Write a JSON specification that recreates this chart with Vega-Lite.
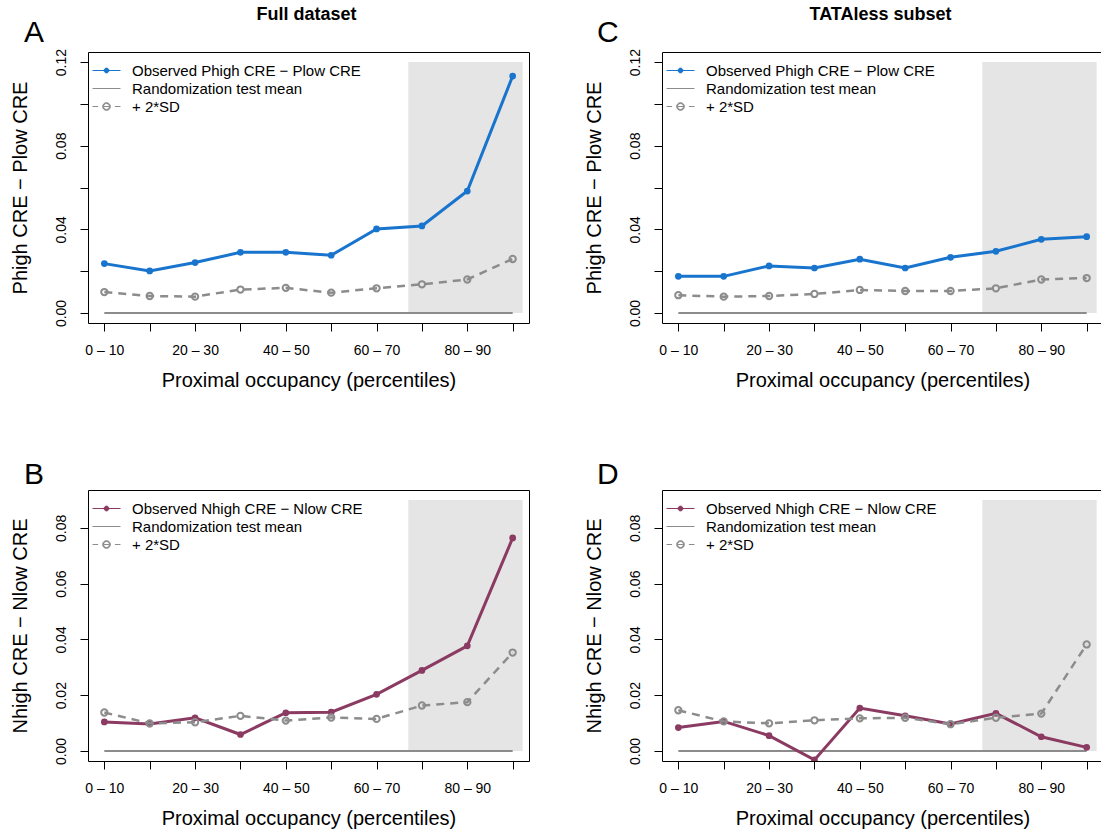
{
  "$schema": "https://vega.github.io/schema/vega-lite/v6.json",
  "padding": {"left": 9, "top": 5, "right": 0, "bottom": 0},
  "background": "white",
  "datasets": {
    "d": [
      {"p":"A","bin":1,"s":"obs","v":0.0236},{"p":"A","bin":2,"s":"obs","v":0.0201},{"p":"A","bin":3,"s":"obs","v":0.0241},{"p":"A","bin":4,"s":"obs","v":0.0290},{"p":"A","bin":5,"s":"obs","v":0.0290},{"p":"A","bin":6,"s":"obs","v":0.0276},{"p":"A","bin":7,"s":"obs","v":0.0402},{"p":"A","bin":8,"s":"obs","v":0.0416},{"p":"A","bin":9,"s":"obs","v":0.0583},{"p":"A","bin":10,"s":"obs","v":0.1133},
      {"p":"A","bin":1,"s":"sd","v":0.0100},{"p":"A","bin":2,"s":"sd","v":0.0081},{"p":"A","bin":3,"s":"sd","v":0.0078},{"p":"A","bin":4,"s":"sd","v":0.0112},{"p":"A","bin":5,"s":"sd","v":0.0120},{"p":"A","bin":6,"s":"sd","v":0.0097},{"p":"A","bin":7,"s":"sd","v":0.0118},{"p":"A","bin":8,"s":"sd","v":0.0137},{"p":"A","bin":9,"s":"sd","v":0.0160},{"p":"A","bin":10,"s":"sd","v":0.0258},
      {"p":"A","bin":1,"s":"mean","v":0},{"p":"A","bin":2,"s":"mean","v":0},{"p":"A","bin":3,"s":"mean","v":0},{"p":"A","bin":4,"s":"mean","v":0},{"p":"A","bin":5,"s":"mean","v":0},{"p":"A","bin":6,"s":"mean","v":0},{"p":"A","bin":7,"s":"mean","v":0},{"p":"A","bin":8,"s":"mean","v":0},{"p":"A","bin":9,"s":"mean","v":0},{"p":"A","bin":10,"s":"mean","v":0},
      {"p":"B","bin":1,"s":"obs","v":0.0104},{"p":"B","bin":2,"s":"obs","v":0.0097},{"p":"B","bin":3,"s":"obs","v":0.0119},{"p":"B","bin":4,"s":"obs","v":0.0059},{"p":"B","bin":5,"s":"obs","v":0.0137},{"p":"B","bin":6,"s":"obs","v":0.0139},{"p":"B","bin":7,"s":"obs","v":0.0203},{"p":"B","bin":8,"s":"obs","v":0.0289},{"p":"B","bin":9,"s":"obs","v":0.0377},{"p":"B","bin":10,"s":"obs","v":0.0764},
      {"p":"B","bin":1,"s":"sd","v":0.0138},{"p":"B","bin":2,"s":"sd","v":0.0099},{"p":"B","bin":3,"s":"sd","v":0.0103},{"p":"B","bin":4,"s":"sd","v":0.0126},{"p":"B","bin":5,"s":"sd","v":0.0109},{"p":"B","bin":6,"s":"sd","v":0.0120},{"p":"B","bin":7,"s":"sd","v":0.0115},{"p":"B","bin":8,"s":"sd","v":0.0163},{"p":"B","bin":9,"s":"sd","v":0.0175},{"p":"B","bin":10,"s":"sd","v":0.0353},
      {"p":"B","bin":1,"s":"mean","v":0},{"p":"B","bin":2,"s":"mean","v":0},{"p":"B","bin":3,"s":"mean","v":0},{"p":"B","bin":4,"s":"mean","v":0},{"p":"B","bin":5,"s":"mean","v":0},{"p":"B","bin":6,"s":"mean","v":0},{"p":"B","bin":7,"s":"mean","v":0},{"p":"B","bin":8,"s":"mean","v":0},{"p":"B","bin":9,"s":"mean","v":0},{"p":"B","bin":10,"s":"mean","v":0},
      {"p":"C","bin":1,"s":"obs","v":0.0175},{"p":"C","bin":2,"s":"obs","v":0.0175},{"p":"C","bin":3,"s":"obs","v":0.0225},{"p":"C","bin":4,"s":"obs","v":0.0215},{"p":"C","bin":5,"s":"obs","v":0.0257},{"p":"C","bin":6,"s":"obs","v":0.0215},{"p":"C","bin":7,"s":"obs","v":0.0266},{"p":"C","bin":8,"s":"obs","v":0.0295},{"p":"C","bin":9,"s":"obs","v":0.0352},{"p":"C","bin":10,"s":"obs","v":0.0365},
      {"p":"C","bin":1,"s":"sd","v":0.0085},{"p":"C","bin":2,"s":"sd","v":0.0078},{"p":"C","bin":3,"s":"sd","v":0.0081},{"p":"C","bin":4,"s":"sd","v":0.0091},{"p":"C","bin":5,"s":"sd","v":0.0110},{"p":"C","bin":6,"s":"sd","v":0.0105},{"p":"C","bin":7,"s":"sd","v":0.0105},{"p":"C","bin":8,"s":"sd","v":0.0118},{"p":"C","bin":9,"s":"sd","v":0.0160},{"p":"C","bin":10,"s":"sd","v":0.0167},
      {"p":"C","bin":1,"s":"mean","v":0},{"p":"C","bin":2,"s":"mean","v":0},{"p":"C","bin":3,"s":"mean","v":0},{"p":"C","bin":4,"s":"mean","v":0},{"p":"C","bin":5,"s":"mean","v":0},{"p":"C","bin":6,"s":"mean","v":0},{"p":"C","bin":7,"s":"mean","v":0},{"p":"C","bin":8,"s":"mean","v":0},{"p":"C","bin":9,"s":"mean","v":0},{"p":"C","bin":10,"s":"mean","v":0},
      {"p":"D","bin":1,"s":"obs","v":0.0084},{"p":"D","bin":2,"s":"obs","v":0.0106},{"p":"D","bin":3,"s":"obs","v":0.0055},{"p":"D","bin":4,"s":"obs","v":-0.0032},{"p":"D","bin":5,"s":"obs","v":0.0154},{"p":"D","bin":6,"s":"obs","v":0.0126},{"p":"D","bin":7,"s":"obs","v":0.0097},{"p":"D","bin":8,"s":"obs","v":0.0135},{"p":"D","bin":9,"s":"obs","v":0.0051},{"p":"D","bin":10,"s":"obs","v":0.0013},
      {"p":"D","bin":1,"s":"sd","v":0.0146},{"p":"D","bin":2,"s":"sd","v":0.0106},{"p":"D","bin":3,"s":"sd","v":0.0099},{"p":"D","bin":4,"s":"sd","v":0.0110},{"p":"D","bin":5,"s":"sd","v":0.0117},{"p":"D","bin":6,"s":"sd","v":0.0119},{"p":"D","bin":7,"s":"sd","v":0.0096},{"p":"D","bin":8,"s":"sd","v":0.0119},{"p":"D","bin":9,"s":"sd","v":0.0134},{"p":"D","bin":10,"s":"sd","v":0.0382},
      {"p":"D","bin":1,"s":"mean","v":0},{"p":"D","bin":2,"s":"mean","v":0},{"p":"D","bin":3,"s":"mean","v":0},{"p":"D","bin":4,"s":"mean","v":0},{"p":"D","bin":5,"s":"mean","v":0},{"p":"D","bin":6,"s":"mean","v":0},{"p":"D","bin":7,"s":"mean","v":0},{"p":"D","bin":8,"s":"mean","v":0},{"p":"D","bin":9,"s":"mean","v":0},{"p":"D","bin":10,"s":"mean","v":0}
    ],
    "band": [
      {"p":"A","lo":7.7,"hi":10.22,"bot":0,"top":0.12},
      {"p":"B","lo":7.7,"hi":10.22,"bot":0,"top":0.09},
      {"p":"C","lo":7.7,"hi":10.22,"bot":0,"top":0.12},
      {"p":"D","lo":7.7,"hi":10.22,"bot":0,"top":0.09}
    ]
  },
  "config": {
    "font": "Liberation Sans",
    "view": {"stroke": "black", "strokeWidth": 1},
    "axis": {"domain": false, "grid": false, "tickColor": "black", "tickSize": 8, "labelColor": "black", "titleColor": "black", "labelFontSize": 14, "titleFontSize": 20, "titleFontWeight": "normal", "labelOverlap": false, "labelFlush": false},
    "axisX": {"labelPadding": 12, "titlePadding": 13},
    "axisY": {"labelAngle": 270, "labelAlign": "center", "labelBaseline": "bottom", "labelPadding": 12, "titlePadding": 24},
    "legend": {"orient": "top-left", "offset": 11, "padding": 0, "labelFontSize": 15, "labelColor": "black", "symbolSize": 196, "symbolStrokeWidth": 1, "rowPadding": 2, "labelOffset": 18, "labelLimit": 500},
    "title": {"color": "black", "fontWeight": "normal"}
  },
  "spacing": 53,
  "resolve": {"scale": {"color": "independent"}, "legend": {"color": "independent"}},
  "hconcat": [
    {
      "title": {"text": "Full dataset", "fontWeight": "bold", "fontSize": 18, "anchor": "middle", "dx": 37, "offset": -6},
      "spacing": 68,
      "resolve": {"scale": {"color": "independent"}, "legend": {"color": "independent"}},
      "vconcat": [
        {
          "title": {"text": "A", "anchor": "start", "frame": "group", "fontSize": 30, "dx": -64, "offset": 0},
          "width": 441, "height": 271,
          "encoding": {
            "x": {"field": "bin", "type": "quantitative", "scale": {"domain": [0.64, 10.36], "nice": false, "zero": false}, "axis": {"values": [1,2,3,4,5,6,7,8,9,10], "labelExpr": "datum.value % 2 == 1 ? ((datum.value - 1) * 10) + ' – ' + (datum.value * 10) : ''", "title": "Proximal occupancy (percentiles)"}},
            "y": {"field": "v", "type": "quantitative", "scale": {"domain": [-0.0048, 0.1248], "nice": false, "zero": false}, "axis": {"values": [0, 0.02, 0.04, 0.06, 0.08, 0.1, 0.12], "labelExpr": "round(datum.value * 100) % 4 == 0 ? format(datum.value, '.2f') : ''", "title": "Phigh CRE − Plow CRE"}},
            "color": {"field": "s", "type": "nominal", "scale": {"domain": ["obs", "mean", "sd"], "range": ["#1874CD", "#8c8c8c", "#8c8c8c"]},
              "legend": {"title": null, "labelExpr": "datum.value == 'obs' ? 'Observed Phigh CRE − Plow CRE' : datum.value == 'mean' ? 'Randomization test mean' : '+ 2*SD'",
                "symbolType": {"expr": "datum.value == 'obs' ? 'M-2,0H2M0.34,0A0.34,0.34,0,1,1,-0.34,0A0.34,0.34,0,1,1,0.34,0Z' : datum.value == 'mean' ? 'M-2,0H2' : 'M-2,0H-1.2M-0.45,0H0.45M1.2,0H2M0.55,0A0.55,0.55,0,1,1,-0.55,0A0.55,0.55,0,1,1,0.55,0ZM0.42,0A0.42,0.42,0,1,0,-0.42,0A0.42,0.42,0,1,0,0.42,0Z'"}}}
          },
          "layer": [
            {"data": {"name": "band"}, "transform": [{"filter": "datum.p == 'A'"}], "mark": {"type": "rect", "color": "#e5e5e5"}, "encoding": {"x": {"field": "lo", "type": "quantitative"}, "x2": {"field": "hi"}, "y": {"field": "bot", "type": "quantitative"}, "y2": {"field": "top"}, "color": {"value": "#e5e5e5"}}},
            {"data": {"name": "d"}, "transform": [{"filter": "datum.p == 'A' && datum.s == 'mean'"}], "mark": {"type": "line", "strokeWidth": 2, "clip": true}},
            {"data": {"name": "d"}, "transform": [{"filter": "datum.p == 'A' && datum.s == 'obs'"}], "mark": {"type": "line", "strokeWidth": 3, "clip": true}},
            {"data": {"name": "d"}, "transform": [{"filter": "datum.p == 'A' && datum.s == 'obs'"}], "mark": {"type": "point", "filled": true, "size": 45, "opacity": 1, "clip": true}},
            {"data": {"name": "d"}, "transform": [{"filter": "datum.p == 'A' && datum.s == 'sd'"}], "mark": {"type": "line", "strokeWidth": 2.5, "strokeDash": [8, 6], "clip": true}},
            {"data": {"name": "d"}, "transform": [{"filter": "datum.p == 'A' && datum.s == 'sd'"}], "mark": {"type": "point", "filled": false, "strokeWidth": 2, "size": 40, "opacity": 1, "clip": true}}
          ]
        },
        {
          "title": {"text": "B", "anchor": "start", "frame": "group", "fontSize": 30, "dx": -64, "offset": 0},
          "width": 441, "height": 271,
          "encoding": {
            "x": {"field": "bin", "type": "quantitative", "scale": {"domain": [0.64, 10.36], "nice": false, "zero": false}, "axis": {"values": [1,2,3,4,5,6,7,8,9,10], "labelExpr": "datum.value % 2 == 1 ? ((datum.value - 1) * 10) + ' – ' + (datum.value * 10) : ''", "title": "Proximal occupancy (percentiles)"}},
            "y": {"field": "v", "type": "quantitative", "scale": {"domain": [-0.0036, 0.0936], "nice": false, "zero": false}, "axis": {"values": [0, 0.02, 0.04, 0.06, 0.08], "format": ".2f", "title": "Nhigh CRE − Nlow CRE"}},
            "color": {"field": "s", "type": "nominal", "scale": {"domain": ["obs", "mean", "sd"], "range": ["#8B3A62", "#8c8c8c", "#8c8c8c"]},
              "legend": {"title": null, "labelExpr": "datum.value == 'obs' ? 'Observed Nhigh CRE − Nlow CRE' : datum.value == 'mean' ? 'Randomization test mean' : '+ 2*SD'",
                "symbolType": {"expr": "datum.value == 'obs' ? 'M-2,0H2M0.34,0A0.34,0.34,0,1,1,-0.34,0A0.34,0.34,0,1,1,0.34,0Z' : datum.value == 'mean' ? 'M-2,0H2' : 'M-2,0H-1.2M-0.45,0H0.45M1.2,0H2M0.55,0A0.55,0.55,0,1,1,-0.55,0A0.55,0.55,0,1,1,0.55,0ZM0.42,0A0.42,0.42,0,1,0,-0.42,0A0.42,0.42,0,1,0,0.42,0Z'"}}}
          },
          "layer": [
            {"data": {"name": "band"}, "transform": [{"filter": "datum.p == 'B'"}], "mark": {"type": "rect", "color": "#e5e5e5"}, "encoding": {"x": {"field": "lo", "type": "quantitative"}, "x2": {"field": "hi"}, "y": {"field": "bot", "type": "quantitative"}, "y2": {"field": "top"}, "color": {"value": "#e5e5e5"}}},
            {"data": {"name": "d"}, "transform": [{"filter": "datum.p == 'B' && datum.s == 'mean'"}], "mark": {"type": "line", "strokeWidth": 2, "clip": true}},
            {"data": {"name": "d"}, "transform": [{"filter": "datum.p == 'B' && datum.s == 'obs'"}], "mark": {"type": "line", "strokeWidth": 3, "clip": true}},
            {"data": {"name": "d"}, "transform": [{"filter": "datum.p == 'B' && datum.s == 'obs'"}], "mark": {"type": "point", "filled": true, "size": 45, "opacity": 1, "clip": true}},
            {"data": {"name": "d"}, "transform": [{"filter": "datum.p == 'B' && datum.s == 'sd'"}], "mark": {"type": "line", "strokeWidth": 2.5, "strokeDash": [8, 6], "clip": true}},
            {"data": {"name": "d"}, "transform": [{"filter": "datum.p == 'B' && datum.s == 'sd'"}], "mark": {"type": "point", "filled": false, "strokeWidth": 2, "size": 40, "opacity": 1, "clip": true}}
          ]
        }
      ]
    },
    {
      "title": {"text": "TATAless subset", "fontWeight": "bold", "fontSize": 18, "anchor": "middle", "dx": 37, "offset": -6},
      "spacing": 68,
      "resolve": {"scale": {"color": "independent"}, "legend": {"color": "independent"}},
      "vconcat": [
        {
          "title": {"text": "C", "anchor": "start", "frame": "group", "fontSize": 30, "dx": -65, "offset": 0},
          "width": 441, "height": 271,
          "encoding": {
            "x": {"field": "bin", "type": "quantitative", "scale": {"domain": [0.64, 10.36], "nice": false, "zero": false}, "axis": {"values": [1,2,3,4,5,6,7,8,9,10], "labelExpr": "datum.value % 2 == 1 ? ((datum.value - 1) * 10) + ' – ' + (datum.value * 10) : ''", "title": "Proximal occupancy (percentiles)"}},
            "y": {"field": "v", "type": "quantitative", "scale": {"domain": [-0.0048, 0.1248], "nice": false, "zero": false}, "axis": {"values": [0, 0.02, 0.04, 0.06, 0.08, 0.1, 0.12], "labelExpr": "round(datum.value * 100) % 4 == 0 ? format(datum.value, '.2f') : ''", "title": "Phigh CRE − Plow CRE"}},
            "color": {"field": "s", "type": "nominal", "scale": {"domain": ["obs", "mean", "sd"], "range": ["#1874CD", "#8c8c8c", "#8c8c8c"]},
              "legend": {"title": null, "labelExpr": "datum.value == 'obs' ? 'Observed Phigh CRE − Plow CRE' : datum.value == 'mean' ? 'Randomization test mean' : '+ 2*SD'",
                "symbolType": {"expr": "datum.value == 'obs' ? 'M-2,0H2M0.34,0A0.34,0.34,0,1,1,-0.34,0A0.34,0.34,0,1,1,0.34,0Z' : datum.value == 'mean' ? 'M-2,0H2' : 'M-2,0H-1.2M-0.45,0H0.45M1.2,0H2M0.55,0A0.55,0.55,0,1,1,-0.55,0A0.55,0.55,0,1,1,0.55,0ZM0.42,0A0.42,0.42,0,1,0,-0.42,0A0.42,0.42,0,1,0,0.42,0Z'"}}}
          },
          "layer": [
            {"data": {"name": "band"}, "transform": [{"filter": "datum.p == 'C'"}], "mark": {"type": "rect", "color": "#e5e5e5"}, "encoding": {"x": {"field": "lo", "type": "quantitative"}, "x2": {"field": "hi"}, "y": {"field": "bot", "type": "quantitative"}, "y2": {"field": "top"}, "color": {"value": "#e5e5e5"}}},
            {"data": {"name": "d"}, "transform": [{"filter": "datum.p == 'C' && datum.s == 'mean'"}], "mark": {"type": "line", "strokeWidth": 2, "clip": true}},
            {"data": {"name": "d"}, "transform": [{"filter": "datum.p == 'C' && datum.s == 'obs'"}], "mark": {"type": "line", "strokeWidth": 3, "clip": true}},
            {"data": {"name": "d"}, "transform": [{"filter": "datum.p == 'C' && datum.s == 'obs'"}], "mark": {"type": "point", "filled": true, "size": 45, "opacity": 1, "clip": true}},
            {"data": {"name": "d"}, "transform": [{"filter": "datum.p == 'C' && datum.s == 'sd'"}], "mark": {"type": "line", "strokeWidth": 2.5, "strokeDash": [8, 6], "clip": true}},
            {"data": {"name": "d"}, "transform": [{"filter": "datum.p == 'C' && datum.s == 'sd'"}], "mark": {"type": "point", "filled": false, "strokeWidth": 2, "size": 40, "opacity": 1, "clip": true}}
          ]
        },
        {
          "title": {"text": "D", "anchor": "start", "frame": "group", "fontSize": 30, "dx": -65, "offset": 0},
          "width": 441, "height": 271,
          "encoding": {
            "x": {"field": "bin", "type": "quantitative", "scale": {"domain": [0.64, 10.36], "nice": false, "zero": false}, "axis": {"values": [1,2,3,4,5,6,7,8,9,10], "labelExpr": "datum.value % 2 == 1 ? ((datum.value - 1) * 10) + ' – ' + (datum.value * 10) : ''", "title": "Proximal occupancy (percentiles)"}},
            "y": {"field": "v", "type": "quantitative", "scale": {"domain": [-0.0036, 0.0936], "nice": false, "zero": false}, "axis": {"values": [0, 0.02, 0.04, 0.06, 0.08], "format": ".2f", "title": "Nhigh CRE − Nlow CRE"}},
            "color": {"field": "s", "type": "nominal", "scale": {"domain": ["obs", "mean", "sd"], "range": ["#8B3A62", "#8c8c8c", "#8c8c8c"]},
              "legend": {"title": null, "labelExpr": "datum.value == 'obs' ? 'Observed Nhigh CRE − Nlow CRE' : datum.value == 'mean' ? 'Randomization test mean' : '+ 2*SD'",
                "symbolType": {"expr": "datum.value == 'obs' ? 'M-2,0H2M0.34,0A0.34,0.34,0,1,1,-0.34,0A0.34,0.34,0,1,1,0.34,0Z' : datum.value == 'mean' ? 'M-2,0H2' : 'M-2,0H-1.2M-0.45,0H0.45M1.2,0H2M0.55,0A0.55,0.55,0,1,1,-0.55,0A0.55,0.55,0,1,1,0.55,0ZM0.42,0A0.42,0.42,0,1,0,-0.42,0A0.42,0.42,0,1,0,0.42,0Z'"}}}
          },
          "layer": [
            {"data": {"name": "band"}, "transform": [{"filter": "datum.p == 'D'"}], "mark": {"type": "rect", "color": "#e5e5e5"}, "encoding": {"x": {"field": "lo", "type": "quantitative"}, "x2": {"field": "hi"}, "y": {"field": "bot", "type": "quantitative"}, "y2": {"field": "top"}, "color": {"value": "#e5e5e5"}}},
            {"data": {"name": "d"}, "transform": [{"filter": "datum.p == 'D' && datum.s == 'mean'"}], "mark": {"type": "line", "strokeWidth": 2, "clip": true}},
            {"data": {"name": "d"}, "transform": [{"filter": "datum.p == 'D' && datum.s == 'obs'"}], "mark": {"type": "line", "strokeWidth": 3, "clip": true}},
            {"data": {"name": "d"}, "transform": [{"filter": "datum.p == 'D' && datum.s == 'obs'"}], "mark": {"type": "point", "filled": true, "size": 45, "opacity": 1, "clip": true}},
            {"data": {"name": "d"}, "transform": [{"filter": "datum.p == 'D' && datum.s == 'sd'"}], "mark": {"type": "line", "strokeWidth": 2.5, "strokeDash": [8, 6], "clip": true}},
            {"data": {"name": "d"}, "transform": [{"filter": "datum.p == 'D' && datum.s == 'sd'"}], "mark": {"type": "point", "filled": false, "strokeWidth": 2, "size": 40, "opacity": 1, "clip": true}}
          ]
        }
      ]
    }
  ]
}
